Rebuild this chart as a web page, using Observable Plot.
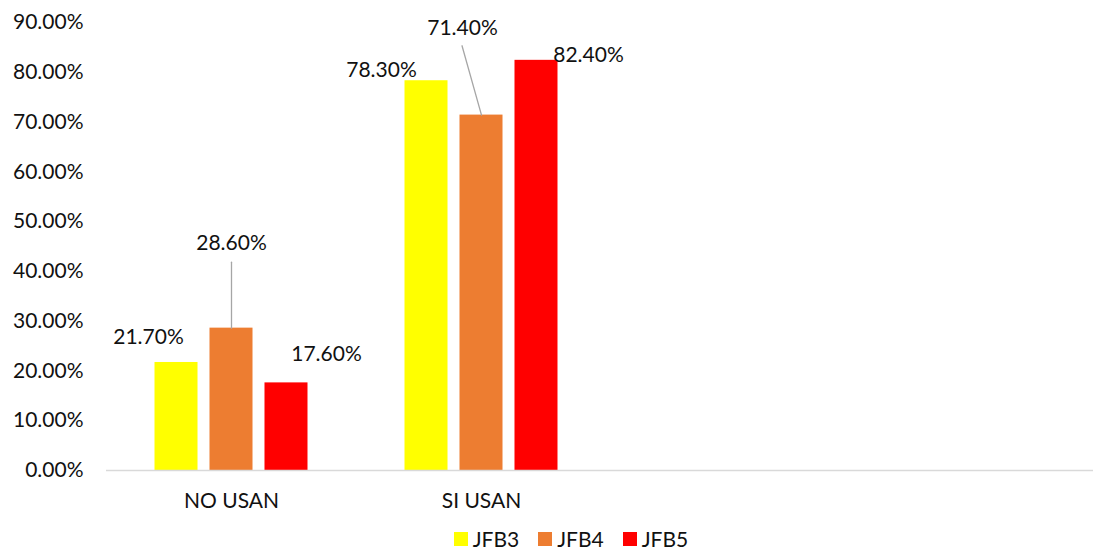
<!DOCTYPE html>
<html><head><meta charset="utf-8">
<script src="https://cdn.jsdelivr.net/npm/d3@7"></script>
<script src="https://cdn.jsdelivr.net/npm/@observablehq/plot@0.6"></script>
<style>
body{margin:0;background:#fff;font-family:Lato,sans-serif;}
#chart svg{display:block;overflow:hidden}
.lg-swatches{justify-content:center;padding-left:68px;}
.lg-swatch{margin-right:19px !important;}
.lg-swatch > svg{margin-right:5px !important;}
</style></head><body><div id="chart"></div>
<script>
const categories = ["NO USAN", "SI USAN", "", " "];
const series = ["JFB3", "JFB4", "JFB5"];
const jfb3 = [0.217, 0.783];
const jfb4 = [0.286, 0.714];
const jfb5 = [0.176, 0.824];
const colors = ["#FFFF00", "#ED7D31", "#FF0000"];
const yTicks = [0, 0.1, 0.2, 0.3, 0.4, 0.5, 0.6, 0.7, 0.8, 0.9];

const data = [];
[jfb3, jfb4, jfb5].forEach((vals, si) =>
  vals.forEach((v, ci) => data.push({category: categories[ci], series: series[si], value: v})));

// label placement offsets (styling, px)
const labelOffsets = {
  "NO USAN|JFB3": [-28, -25], "NO USAN|JFB4": [0, -85], "NO USAN|JFB5": [40, -29],
  "SI USAN|JFB3": [-45, -10], "SI USAN|JFB4": [-19, -87], "SI USAN|JFB5": [52, -5]
};
// leader lines (styling): length px, rotation deg
const leaders = {"NO USAN|JFB4": [66, 0], "SI USAN|JFB4": [72, -15.7]};
const lineShape = {draw(context, l) { context.moveTo(0, 0); context.lineTo(0, -l); }};

const fmt = d3.format(".2%");
const labelMarks = data.map(d => {
  const [dx, dy] = labelOffsets[d.category + "|" + d.series];
  return Plot.text([d], {fx: "category", x: "series", y: "value", text: e => fmt(e.value),
    dx, dy, fill: "#111", fontSize: 21});
});
const leaderMarks = data.filter(d => leaders[d.category + "|" + d.series]).map(d => {
  const [length, rotate] = leaders[d.category + "|" + d.series];
  return Plot.vector([d], {fx: "category", x: "series", y: "value", length, rotate,
    anchor: "start", shape: lineShape, stroke: "#a6a6a6", strokeWidth: 1.3});
});

const chart = Plot.plot({
  width: 1093, height: 522,
  marginLeft: 106, marginRight: 3, marginTop: 22, marginBottom: 52,
  style: {fontFamily: "Lato, sans-serif", fontSize: "21px", color: "#111", background: "#fff"},
  fx: {domain: categories, range: [106, 1106], padding: 0, round: false, axis: "bottom", tickSize: 0, tickPadding: 23, label: null},
  x: {domain: series, paddingInner: 0.218, paddingOuter: 0.882, round: false, axis: null},
  y: {domain: [0, 0.9], ticks: yTicks, tickFormat: ".2%", tickSize: 0, tickPadding: 23, label: null},
  color: {domain: series, range: colors},
  marks: [
    Plot.barY(data, {fx: "category", x: "series", y: "value", fill: "series"}),
    Plot.ruleY(categories.map(c => ({category: c})), {fx: "category", y: () => 0, stroke: "#d9d9d9", strokeWidth: 1.5}),
    ...leaderMarks,
    ...labelMarks
  ]
});
document.getElementById("chart").appendChild(chart);

const legend = Plot.legend({
  color: {domain: series, range: colors}, legend: "swatches", swatchSize: 14, className: "lg",
  style: {fontFamily: "Lato, sans-serif", fontSize: "21px", color: "#111"}
});
document.getElementById("chart").appendChild(legend);
</script></body></html>
